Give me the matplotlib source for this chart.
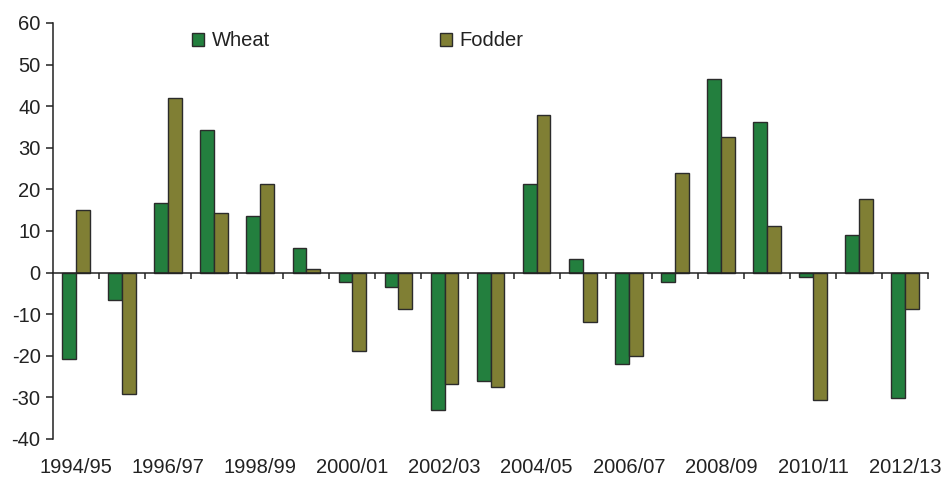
import matplotlib.pyplot as plt
import numpy as np

seasons = ['1994/95', '1995/96', '1996/97', '1997/98', '1998/99', '1999/00',
           '2000/01', '2001/02', '2002/03', '2003/04', '2004/05', '2005/06',
           '2006/07', '2007/08', '2008/09', '2009/10', '2010/11', '2011/12',
           '2012/13']
wheat = [-20.7, -6.5, 16.7, 34.3, 13.5, 5.8, -2.3, -3.4, -33.0, -26.1,
         21.3, 3.2, -21.9, -2.2, 46.6, 36.2, -1.0, 9.0, -30.2]
fodder = [15.1, -29.2, 42.0, 14.3, 21.3, 0.9, -18.8, -8.7, -26.8, -27.6,
          37.8, -11.9, -20.0, 24.0, 32.5, 11.2, -30.6, 17.8, -8.7]

plt.rcParams['font.family'] = ['Liberation Sans', 'DejaVu Sans']
plt.rcParams['font.size'] = 14.5
plt.rcParams['axes.unicode_minus'] = False

fig = plt.figure(figsize=(9.5, 4.78), dpi=100)
ax = fig.add_axes([0.0558, 0.0816, 0.9212, 0.8704])

x = np.arange(len(seasons))
w = 0.3
edge = '#2b2b2b'
ax.bar(x - w / 2, wheat, w, color='#237f3e', edgecolor=edge, linewidth=1.0, label='Wheat', zorder=2)
ax.bar(x + w / 2, fodder, w, color='#807f34', edgecolor=edge, linewidth=1.0, label='Fodder', zorder=2)

ax.set_xlim(-0.5, len(seasons) - 0.5)
ax.set_ylim(-40, 60)
ax.set_yticks(range(-40, 61, 10))

# x axis line at zero, ticks between the seasons
ax.spines['bottom'].set_position(('data', 0))
ax.spines['top'].set_visible(False)
ax.spines['right'].set_visible(False)
for s in ['bottom', 'left']:
    ax.spines[s].set_color('#222222')
    ax.spines[s].set_linewidth(1.1)
    ax.spines[s].set_zorder(3)
ax.set_xticks(np.arange(0.5, len(seasons), 1.0))
ax.set_xticklabels([])
ax.tick_params(axis='x', direction='out', length=4, width=1.1, color='#222222')
ax.tick_params(axis='y', direction='out', length=5, width=1.1, color='#222222',
               pad=4, labelcolor='#222222')

# season labels along the bottom
sec = ax.secondary_xaxis(0.0)
sec.spines['bottom'].set_visible(False)
sec.set_xticks(x[::2])
sec.set_xticklabels(seasons[::2])
sec.tick_params(length=0, pad=14, labelcolor='#222222')

ax.legend(loc='center left', bbox_to_anchor=(0.159, 0.957), ncol=2,
          frameon=False, borderpad=0, borderaxespad=0,
          handlelength=0.6, handleheight=0.6, handletextpad=0.4,
          columnspacing=8.4, fontsize=14.5, labelcolor='#222222')

fig.savefig('out.png', dpi=100)
